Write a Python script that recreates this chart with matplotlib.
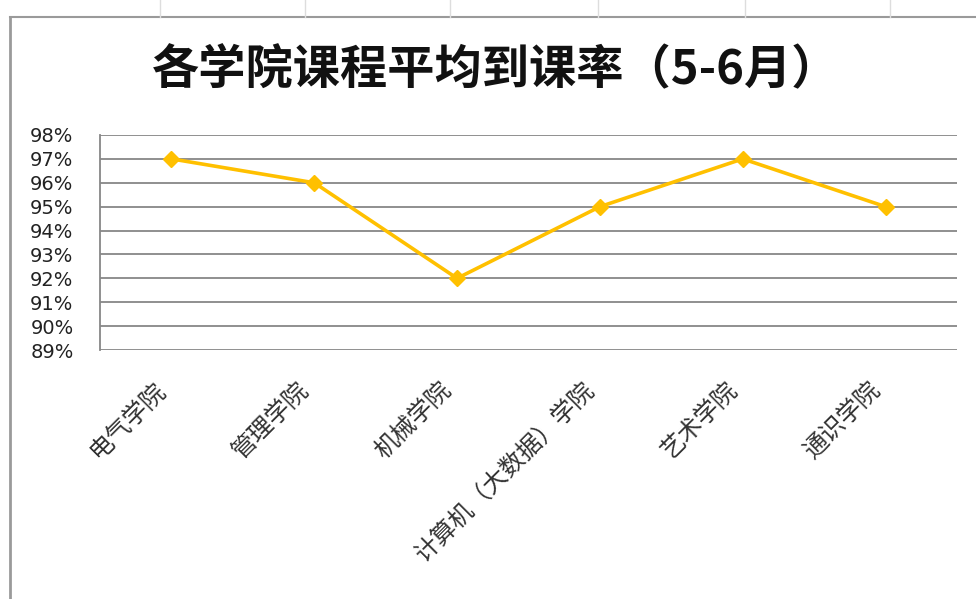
import matplotlib
matplotlib.use("Agg")
import matplotlib.pyplot as plt
from matplotlib.lines import Line2D
from matplotlib.ticker import PercentFormatter

plt.rcParams['font.family'] = ['Noto Sans CJK SC', 'DejaVu Sans']

# 数据
colleges = ['电气学院', '管理学院', '机械学院', '计算机（大数据）学院', '艺术学院', '通识学院']
rates = [0.97, 0.96, 0.92, 0.95, 0.97, 0.95]
y_ticks = [0.89, 0.90, 0.91, 0.92, 0.93, 0.94, 0.95, 0.96, 0.97, 0.98]
title = '各学院课程平均到课率（5-6月）'

W, H = 976, 599
fig = plt.figure(figsize=(W / 100, H / 100), dpi=100)
fig.patch.set_facecolor('white')

# 图表区 (像素 -> 比例)
left, right, top, bottom = 100, 957, 135, 350
ax = fig.add_axes([left / W, 1 - bottom / H, (right - left) / W, (bottom - top) / H])

x = range(len(colleges))
ax.plot(x, rates, color='#FFC000', lw=2.6, marker='D', markersize=8, zorder=3)

ax.set_xlim(-0.5, len(colleges) - 0.5)
ax.set_ylim(0.89, 0.98)
ax.set_yticks(y_ticks)
ax.yaxis.set_major_formatter(PercentFormatter(1.0, decimals=0))
ax.grid(axis='y', color='#878787', lw=1.3, zorder=1)
ax.set_axisbelow(True)

for s in ['top', 'right', 'bottom']:
    ax.spines[s].set_visible(False)
ax.spines['left'].set_color('#878787')
ax.spines['left'].set_linewidth(1.3)

ax.tick_params(axis='y', length=0, pad=19, labelsize=14, labelcolor='#222222')
for lbl in ax.get_yticklabels():
    lbl.set_fontfamily('DejaVu Sans')

ax.set_xticks(list(x))
ax.set_xticklabels(colleges, rotation=45, ha='right', va='top', fontsize=17.5, color='#333333')
ax.tick_params(axis='x', length=0, pad=19)

# 标题
fig.text(0.508, 1 - 70 / H, title, ha='center', va='center', fontsize=34,
         fontweight='bold', color='#111111')

# 表格边框与单元格线
fig.add_artist(Line2D([10 / W, 1], [1 - 17 / H, 1 - 17 / H], color='#9a9a9a', lw=1.5))
fig.add_artist(Line2D([10 / W, 10 / W], [0, 1 - 17 / H], color='#9a9a9a', lw=2))
for cx in [160, 305, 450, 598, 745, 890]:
    fig.add_artist(Line2D([cx / W, cx / W], [1 - 17 / H, 1], color='#dddddd', lw=1))

fig.savefig('out.png', dpi=100, facecolor='white')
